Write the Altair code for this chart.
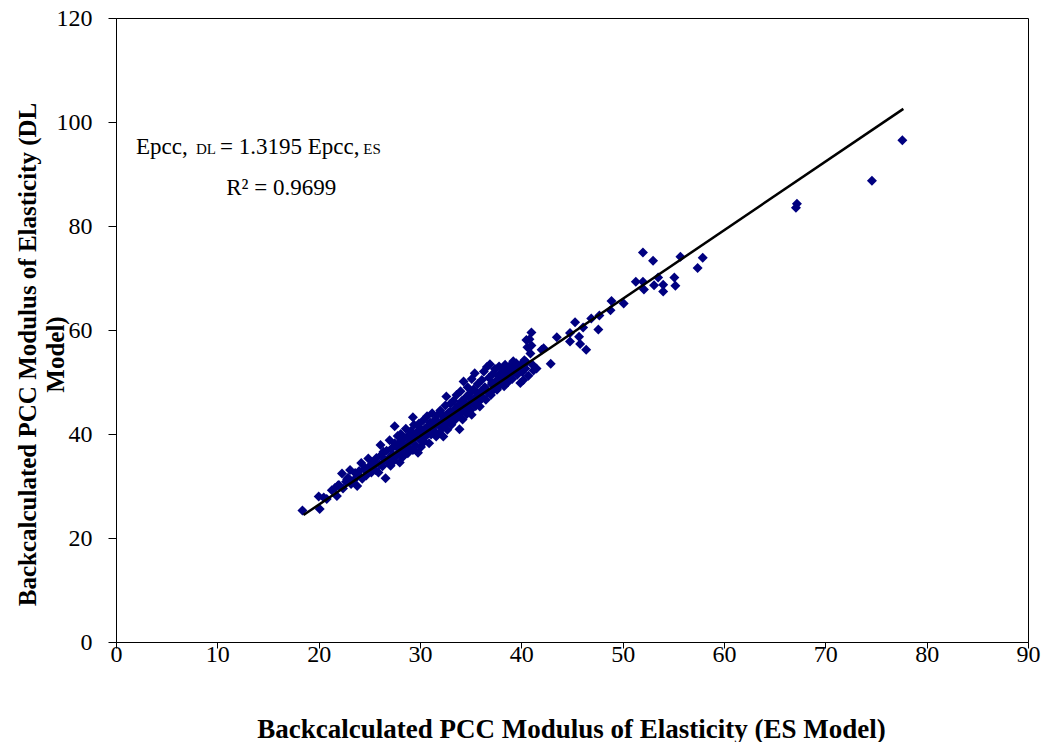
import altair as alt
import pandas as pd

# Backcalculated PCC modulus of elasticity, ES model (x) vs DL model (y)
es = [18.4, 20.1, 20.0, 20.5, 20.8, 21.3, 21.8, 21.6, 22.3, 22.0, 22.4, 22.7, 22.9, 23.1, 23.2, 23.5,
      23.6, 23.8, 24.0, 24.2, 24.3, 24.5, 24.7, 24.9, 25.0, 25.2, 25.4, 25.6, 25.7, 25.9, 26.0, 26.1,
      26.2, 26.3, 26.5, 26.6, 26.7, 26.8, 27.0, 27.0, 27.1, 27.2, 27.3, 27.4, 27.5, 27.5, 27.6, 27.7,
      27.8, 27.9, 28.0, 28.0, 28.1, 28.2, 28.3, 28.4, 28.5, 28.6, 28.7, 28.8, 28.9, 29.0, 29.1, 29.2,
      29.3, 29.3, 29.4, 29.5, 29.6, 29.7, 29.8, 29.9, 30.0, 30.0, 30.1, 30.2, 30.3, 30.4, 30.5, 30.6,
      30.7, 30.8, 30.9, 31.0, 31.1, 31.2, 31.3, 31.4, 31.5, 31.6, 31.7, 31.8, 31.9, 32.0, 32.1, 32.2,
      32.3, 32.4, 32.5, 32.6, 32.6, 32.7, 32.8, 32.9, 33.0, 33.1, 33.2, 33.3, 33.4, 33.5, 33.6, 33.7,
      33.8, 33.9, 34.0, 34.0, 34.1, 34.2, 34.3, 34.4, 34.5, 34.6, 34.7, 34.8, 34.9, 35.0, 35.1, 35.1,
      35.2, 35.3, 35.4, 35.5, 35.6, 35.7, 35.8, 35.9, 36.0, 36.1, 36.2, 36.3, 36.4, 36.5, 36.6, 36.7,
      36.8, 36.9, 37.0, 37.1, 37.2, 37.3, 37.4, 37.5, 37.6, 37.7, 37.8, 37.9, 38.0, 38.1, 38.2, 38.3,
      38.4, 38.5, 38.6, 38.7, 38.8, 38.9, 39.0, 39.1, 39.2, 39.3, 39.5, 39.6, 39.7, 39.9, 40.0, 40.1,
      40.2, 40.3, 40.4, 40.5, 40.5, 40.6, 40.7, 40.8, 40.9, 41.0, 41.0, 41.1, 41.2, 41.5, 42.0, 42.2,
      42.9, 43.5, 44.8, 45.7, 44.8, 45.8, 46.4, 45.3, 46.1, 47.6, 46.9, 47.7, 48.8, 48.9, 50.1, 51.3,
      52.0, 53.5, 55.1, 52.1, 53.1, 54.0, 54.0, 55.2, 52.0, 53.0, 55.7, 57.9, 57.4, 67.1, 67.2, 74.6,
      77.6,
      26.4, 27.9, 28.9, 29.6, 30.8, 31.5, 32.3, 33.0, 33.6, 34.4, 35.0, 35.7, 36.4, 37.1, 37.8, 38.5,
      39.1, 39.8, 25.3, 24.6, 23.9, 22.8, 21.9]
dl = [25.3, 25.6, 28.0, 27.8, 27.5, 29.2, 28.1, 29.6, 32.4, 30.2, 29.5, 30.8, 31.6, 33.1, 30.4, 31.2,
      32.5, 30.0, 32.9, 34.4, 31.4, 33.2, 32.0, 35.3, 33.8, 32.6, 34.6, 33.1, 35.4, 32.6, 34.2, 37.9,
      36.0, 33.8, 35.1, 31.5, 36.8, 34.6, 38.8, 35.5, 33.9, 37.2, 36.1, 34.8, 41.5, 38.2, 35.6, 37.5,
      39.6, 36.4, 34.5, 38.4, 40.0, 36.9, 35.6, 39.2, 37.6, 41.0, 38.0, 36.3, 39.8, 37.2, 40.6, 38.7,
      43.2, 36.9, 41.8, 39.4, 37.8, 40.3, 36.4, 42.0, 38.9, 41.2, 37.5, 40.0, 42.6, 38.5, 41.0, 39.6,
      43.4, 40.4, 38.2, 42.2, 39.9, 44.0, 41.3, 40.6, 42.8, 39.5, 43.6, 41.8, 40.2, 44.5, 42.4, 41.1,
      39.5, 43.2, 45.5, 42.0, 47.2, 40.8, 44.1, 42.9, 45.8, 41.8, 43.8, 46.4, 42.6, 44.9, 47.5, 43.3,
      45.6, 40.9, 48.2, 44.2, 46.3, 42.8, 50.1, 45.0, 47.0, 43.8, 49.0, 45.7, 47.8, 44.6, 43.7, 50.6,
      46.5, 48.6, 51.7, 45.4, 47.3, 49.6, 46.2, 45.3, 48.2, 50.4, 47.0, 52.0, 49.0, 46.6, 52.9, 48.0,
      50.8, 53.4, 47.5, 49.8, 51.6, 48.6, 52.5, 50.2, 48.5, 51.2, 53.0, 49.4, 51.8, 50.4, 52.6, 49.2,
      53.3, 51.0, 52.2, 50.0, 53.0, 51.5, 52.8, 50.6, 54.0, 52.0, 53.6, 51.4, 52.9, 49.8, 53.4, 51.9,
      50.4, 54.2, 52.6, 58.1, 53.8, 56.7, 51.2, 58.2, 55.5, 59.5, 57.0, 53.3, 52.2, 52.6, 56.2, 56.5,
      53.5, 58.6, 59.4, 58.7, 57.8, 57.3, 56.2, 61.5, 60.5, 60.1, 62.2, 62.8, 63.8, 65.6, 65.1, 69.3,
      69.3, 70.1, 70.1, 67.8, 68.6, 68.7, 67.4, 68.5, 74.9, 73.3, 74.1, 73.9, 71.9, 83.5, 84.3, 88.7,
      96.5,
      36.6, 38.0, 39.3, 40.2, 41.6, 42.5, 43.6, 44.3, 45.1, 46.0, 46.8, 47.8, 48.5, 49.5, 50.1, 51.3,
      51.8, 52.5, 34.0, 33.4, 32.2, 31.3, 30.1]

slope = 1.3195
fit_es = [18.5, 77.7]
fit_dl = [slope * v for v in fit_es]

x_ticks = [0, 10, 20, 30, 40, 50, 60, 70, 80, 90]
y_ticks = [0, 20, 40, 60, 80, 100, 120]

ann_text = ["Epcc,", "DL", "= 1.3195 Epcc,", "ES"]
ann_x = [1.97, 7.89, 10.26, 24.4]
ann_size = [23, 15, 23, 15]
ann_y = 93.8
r2_text = "R\u00b2 = 0.9699"
r2_x = 16.3
r2_y = 86.0

pts = pd.DataFrame({"es": es, "dl": dl})
fit = pd.DataFrame({"es": fit_es, "dl": fit_dl})
ann = pd.DataFrame({"t": ann_text, "x": ann_x, "y": [ann_y] * len(ann_text), "s": ann_size})
r2 = pd.DataFrame({"t": [r2_text], "x": [r2_x], "y": [r2_y]})

FONT = "Liberation Serif"
xs = alt.Scale(domain=[0, 90], nice=False, zero=False)
ys = alt.Scale(domain=[0, 120], nice=False, zero=False)

x_axis = alt.Axis(values=x_ticks, title="Backcalculated PCC Modulus of Elasticity (ES Model)",
                  grid=False, domainColor="black", tickColor="black", tickSize=6,
                  labelPadding=-6, labelFlush=False, labelFontSize=24, labelFont=FONT,
                  labelColor="black",
                  titleFont=FONT, titleFontSize=27, titleFontWeight="bold", titleColor="black",
                  titleX=455, titleY=87, titleBaseline="middle", titleAlign="center")
y_axis = alt.Axis(values=y_ticks, title=["Backcalculated PCC Modulus of Elasticity (DL", "Model)"],
                  grid=False, domainColor="black", tickColor="black", tickSize=8,
                  labelPadding=16, labelFlush=False, labelFontSize=24, labelFont=FONT,
                  labelColor="black",
                  titleFont=FONT, titleFontSize=25, titleFontWeight="bold", titleColor="black",
                  titleX=-89, titleY=336, titleBaseline="middle", titleAlign="center",
                  titleAngle=270, titleLineHeight=28)

points = alt.Chart(pts).mark_point(shape="diamond", filled=True, size=100, color="#000080",
                                   opacity=1).encode(
    x=alt.X("es:Q", scale=xs, axis=x_axis),
    y=alt.Y("dl:Q", scale=ys, axis=y_axis),
)

line = alt.Chart(fit).mark_line(color="black", strokeWidth=2.5).encode(
    x=alt.X("es:Q", scale=xs),
    y=alt.Y("dl:Q", scale=ys),
)

ann_marks = alt.Chart(ann).mark_text(font=FONT, align="left", baseline="alphabetic",
                                     color="black").encode(
    x=alt.X("x:Q", scale=xs),
    y=alt.Y("y:Q", scale=ys),
    text="t:N",
    size=alt.Size("s:Q", scale=None, legend=None),
)

r2_mark = alt.Chart(r2).mark_text(font=FONT, fontSize=23, align="center", baseline="alphabetic",
                                  color="black").encode(
    x=alt.X("x:Q", scale=xs),
    y=alt.Y("y:Q", scale=ys),
    text="t:N",
)

chart = alt.layer(points, line, ann_marks, r2_mark).properties(
    width=912, height=624,
    autosize=alt.AutoSizeParams(type="none"),
    padding={"left": 116, "top": 18, "right": 14, "bottom": 100},
    background="white",
).configure_view(stroke="black", strokeWidth=1)

chart.save("out.html", embed_options={"renderer": "svg", "actions": False})
